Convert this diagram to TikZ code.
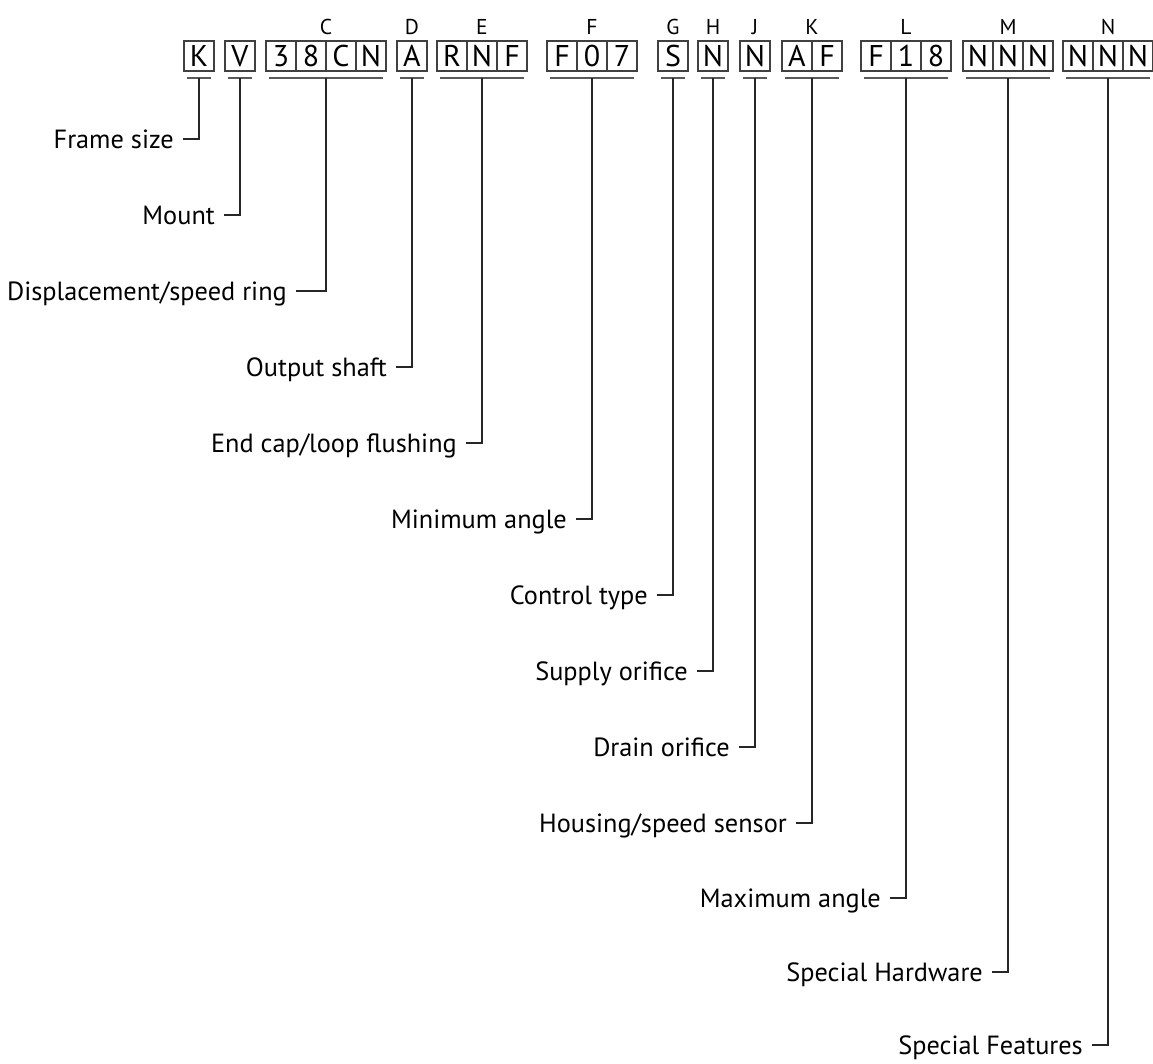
\documentclass[tikz,border=0pt]{standalone}
\usepackage{fontspec}
\setmainfont{PT Sans}
\usetikzlibrary{calc}

\begin{document}
\begin{tikzpicture}
	[
		x=1pt, y=-1pt,
		cell/.style={rectangle, draw=black!75, line width=1.2pt, minimum width=30pt, minimum height=30pt, inner sep=0pt, font=\fontsize{30}{30}\selectfont},
		col/.style={inner sep=0pt, font=\fontsize{21.5}{21.5}\selectfont},
		bar/.style={draw=black!65, line width=2pt},
		lead/.style={draw=black!85, line width=1.1pt},
		lbl/.style={anchor=east, inner xsep=9pt, inner ysep=0pt, text height=18.4pt, text depth=0pt, font=\fontsize{26.3}{26.3}\selectfont},
	]

	\useasboundingbox (0,0) rectangle (1153,1063);

	% Code boxes
	\foreach \name/\chars/\x/\n in
	{
		A/{K}/184/1,
		B/{V}/225/1,
		C/{3,8,C,N}/266/4,
		D/{A}/397/1,
		E/{R,N,F}/437/3,
		F/{F,0,7}/547/3,
		G/{S}/658/1,
		H/{N}/698/1,
		J/{N}/740/1,
		K/{A,F}/782/2,
		L/{F,1,8}/861/3,
		M/{N,N,N}/963/3,
		N/{N,N,N}/1063/3
	}
	{
		\foreach \c [count=\k] in \chars
			\node[cell] (\name\k) at ({\x+30*\k-15}, 56) {\c};
		\draw[bar] ({\x+3}, 78) -- ({\x+30*\n-3}, 78);
		\coordinate (\name) at ({\x+15*\n}, 78);
	}

	% Column letters
	\foreach \name in {C,D,E,F,G,H,J,K,L,M,N}
		\node[col] (t\name) at (\name |- 0,27) {\name};

	% Labels
	\foreach \name/\y/\len/\text in
	{
		A/139/16/{Frame size},
		B/215/16/{Mount},
		C/291/30/{Displacement/speed ring},
		D/367/16/{Output shaft},
		E/443/16/{End cap/loop flushing},
		F/519/16/{Minimum angle},
		G/595/16/{Control type},
		H/671/16/{Supply orifice},
		J/747/16/{Drain orifice},
		K/823/16/{Housing/speed sensor},
		L/898/16/{Maximum angle},
		M/972/16/{Special Hardware},
		N/1045/16/{Special Features}
	}
	{
		\node[lbl] (l\name) at ($(\name |- 0,\y)+(-\len,0)$) {\text};
		\draw[lead] (\name) |- (l\name.east);
	}

\end{tikzpicture}
\end{document}
